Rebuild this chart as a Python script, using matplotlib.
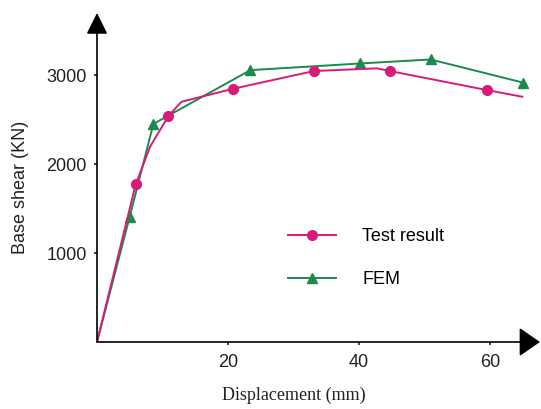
import matplotlib
matplotlib.use('Agg')
import matplotlib.pyplot as plt

# Test result curve (markers only on measured points)
test_x = [0, 5.9, 8.1, 10.9, 12.9, 20.8, 33.1, 42.7, 44.7, 59.5, 64.9]
test_y = [0, 1770, 2195, 2540, 2700, 2846, 3045, 3075, 3045, 2831, 2756]
test_marks = [1, 3, 5, 6, 8, 9]

# FEM curve
fem_x = [0, 5.0, 8.6, 23.4, 40.2, 50.9, 65.0]
fem_y = [0, 1410, 2450, 3055, 3130, 3175, 2915]

x_ticks = [20, 40, 60]
y_ticks = [1000, 2000, 3000]

pink = '#d81b78'
green = '#1b8a4c'

plt.rcParams['font.family'] = ['Liberation Sans', 'DejaVu Sans']

fig = plt.figure(figsize=(5.41, 4.09), dpi=100)
ax = fig.add_axes([97 / 541, 67 / 409, 443 / 541, 329 / 409])

ax.plot(test_x, test_y, color=pink, lw=1.4, marker='o', markersize=7,
        markevery=test_marks, label='Test result', zorder=3)
ax.plot(fem_x, fem_y, color=green, lw=1.4, marker='^', markersize=7,
        markevery=list(range(1, len(fem_x))), label='FEM', zorder=2)

ax.set_xlim(0, 67.6)
ax.set_ylim(0, 3697)
ax.set_xticks(x_ticks)
ax.set_yticks(y_ticks)
ax.tick_params(axis='both', labelsize=13, length=2.5, width=1.2, colors='#222222')
ax.tick_params(axis='x', pad=6)
ax.tick_params(axis='y', pad=5)

for s in ax.spines.values():
    s.set_visible(False)

# axes with arrow heads
ax.annotate('', xy=(1, 0), xytext=(0, 0), xycoords='axes fraction',
            arrowprops=dict(arrowstyle='-|>,head_length=1.3,head_width=0.9',
                            mutation_scale=10, color='black', lw=1.2,
                            shrinkA=0, shrinkB=0), annotation_clip=False)
ax.annotate('', xy=(0, 1), xytext=(0, 0), xycoords='axes fraction',
            arrowprops=dict(arrowstyle='-|>,head_length=1.3,head_width=0.65',
                            mutation_scale=10, color='black', lw=1.2,
                            shrinkA=0, shrinkB=0), annotation_clip=False)

ax.legend(loc='upper left', bbox_to_anchor=(288 / 541, 1 - 228 / 409),
          bbox_transform=fig.transFigure, frameon=False, fontsize=13,
          handlelength=2.66, handletextpad=1.44, labelspacing=1.44,
          borderpad=0, borderaxespad=0)

fig.text(21 / 541, 1 - 187 / 409, 'Base shear (KN)', rotation=90,
         ha='center', va='center', fontsize=13, color='#222222')
fig.text(294 / 541, 1 - 395 / 409, 'Displacement (mm)', ha='center',
         va='center', fontsize=13, color='#222222',
         family=['Liberation Serif', 'DejaVu Serif'])

fig.savefig('out.png', dpi=100)
